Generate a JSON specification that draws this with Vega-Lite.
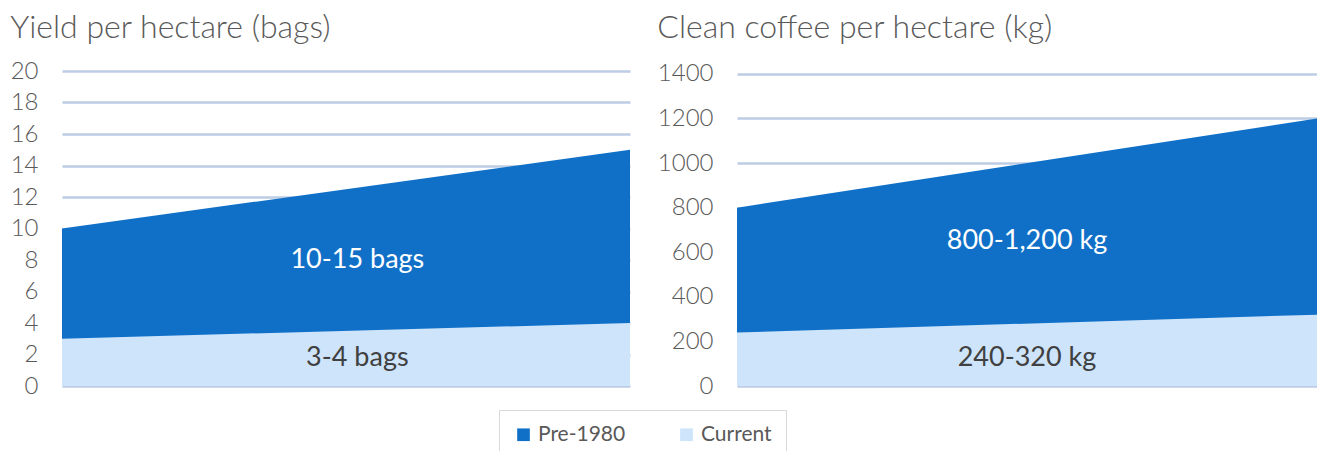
{
  "$schema": "https://vega.github.io/schema/vega-lite/v6.json",
  "padding": {"left": 10, "top": 11, "right": 0, "bottom": 0},
  "background": "white",
  "datasets": {
    "yield": [
      {"point": 0, "series": "Pre-1980", "bags": 10},
      {"point": 1, "series": "Pre-1980", "bags": 15},
      {"point": 0, "series": "Current", "bags": 3},
      {"point": 1, "series": "Current", "bags": 4}
    ],
    "coffee": [
      {"point": 0, "series": "Pre-1980", "kg": 800},
      {"point": 1, "series": "Pre-1980", "kg": 1200},
      {"point": 0, "series": "Current", "kg": 240},
      {"point": 1, "series": "Current", "kg": 320}
    ],
    "labels": [
      {"panel": "yield", "series": "Pre-1980", "label": "10-15 bags"},
      {"panel": "yield", "series": "Current", "label": "3-4 bags"},
      {"panel": "coffee", "series": "Pre-1980", "label": "800-1,200 kg"},
      {"panel": "coffee", "series": "Current", "label": "240-320 kg"}
    ]
  },
  "config": {
    "font": "Lato",
    "view": {"stroke": null},
    "axis": {
      "labelFont": "Lato",
      "labelFontSize": 24,
      "labelFontWeight": 300,
      "labelColor": "#595959",
      "labelOverlap": false,
      "domain": false,
      "ticks": false,
      "gridColor": "#bccde5",
      "gridWidth": 2.5,
      "labelPadding": 24,
      "format": "d",
      "title": null
    },
    "legend": {
      "orient": "none",
      "legendX": 437,
      "legendY": 339,
      "direction": "horizontal",
      "symbolType": "square",
      "symbolSize": 160,
      "symbolStrokeWidth": 0,
      "labelFont": "Lato",
      "labelFontSize": 21,
      "labelColor": "#595959",
      "strokeColor": "#d9d9d9",
      "fillColor": "white",
      "padding": 14,
      "columnPadding": 50
    },
    "title": {
      "font": "Lato",
      "fontSize": 32,
      "fontWeight": 300,
      "color": "#595959",
      "anchor": "start",
      "frame": "bounds"
    },
    "concat": {"spacing": 27}
  },
  "resolve": {"scale": {"y": "independent"}},
  "hconcat": [
    {
      "width": 568,
      "height": 315,
      "title": {"text": "Yield per hectare (bags)", "offset": 14},
      "layer": [
        {
          "data": {"name": "yield"},
          "transform": [{"filter": "datum.series === 'Pre-1980'"}],
          "mark": {"type": "area", "opacity": 1},
          "encoding": {
            "x": {"field": "point", "type": "quantitative", "scale": {"domain": [0, 1]}, "axis": null},
            "y": {"field": "bags", "type": "quantitative", "scale": {"domain": [0, 20], "nice": false}, "axis": {"values": [0, 2, 4, 6, 8, 10, 12, 14, 16, 18, 20], "tickCount": 20}},
            "color": {"field": "series", "type": "nominal", "scale": {"domain": ["Pre-1980", "Current"], "range": ["#1070c8", "#cde4fb"]}, "legend": {"title": null}}
          }
        },
        {
          "data": {"name": "yield"},
          "transform": [{"filter": "datum.series === 'Current'"}],
          "mark": {"type": "area", "opacity": 1},
          "encoding": {
            "x": {"field": "point", "type": "quantitative", "scale": {"domain": [0, 1]}, "axis": null},
            "y": {"field": "bags", "type": "quantitative", "axis": {"values": [0, 2, 4, 6, 8, 10, 12, 14, 16, 18, 20], "tickCount": 20}},
            "color": {"field": "series", "type": "nominal", "legend": {"title": null}}
          }
        },
        {
          "data": {"name": "labels"},
          "transform": [{"filter": "datum.panel === 'yield' && datum.series === 'Pre-1980'"}],
          "mark": {"type": "text", "font": "Lato", "fontSize": 27, "color": "white"},
          "encoding": {"x": {"datum": 0.52}, "y": {"datum": 8.0}, "text": {"field": "label"}}
        },
        {
          "data": {"name": "labels"},
          "transform": [{"filter": "datum.panel === 'yield' && datum.series === 'Current'"}],
          "mark": {"type": "text", "font": "Lato", "fontSize": 27, "color": "#404040"},
          "encoding": {"x": {"datum": 0.52}, "y": {"datum": 1.75}, "text": {"field": "label"}}
        }
      ]
    },
    {
      "width": 580,
      "height": 315,
      "title": {"text": "Clean coffee per hectare (kg)", "offset": 17},
      "layer": [
        {
          "data": {"name": "coffee"},
          "transform": [{"filter": "datum.series === 'Pre-1980'"}],
          "mark": {"type": "area", "opacity": 1},
          "encoding": {
            "x": {"field": "point", "type": "quantitative", "scale": {"domain": [0, 1]}, "axis": null},
            "y": {"field": "kg", "type": "quantitative", "scale": {"domain": [0, 1413], "nice": false}, "axis": {"values": [0, 200, 400, 600, 800, 1000, 1200, 1400], "tickCount": 20}},
            "color": {"field": "series", "type": "nominal", "legend": {"title": null}}
          }
        },
        {
          "data": {"name": "coffee"},
          "transform": [{"filter": "datum.series === 'Current'"}],
          "mark": {"type": "area", "opacity": 1},
          "encoding": {
            "x": {"field": "point", "type": "quantitative", "scale": {"domain": [0, 1]}, "axis": null},
            "y": {"field": "kg", "type": "quantitative", "axis": {"values": [0, 200, 400, 600, 800, 1000, 1200, 1400], "tickCount": 20}},
            "color": {"field": "series", "type": "nominal", "legend": {"title": null}}
          }
        },
        {
          "data": {"name": "labels"},
          "transform": [{"filter": "datum.panel === 'coffee' && datum.series === 'Pre-1980'"}],
          "mark": {"type": "text", "font": "Lato", "fontSize": 27, "color": "white"},
          "encoding": {"x": {"datum": 0.5}, "y": {"datum": 650}, "text": {"field": "label"}}
        },
        {
          "data": {"name": "labels"},
          "transform": [{"filter": "datum.panel === 'coffee' && datum.series === 'Current'"}],
          "mark": {"type": "text", "font": "Lato", "fontSize": 27, "color": "#404040"},
          "encoding": {"x": {"datum": 0.5}, "y": {"datum": 125}, "text": {"field": "label"}}
        }
      ]
    }
  ]
}
